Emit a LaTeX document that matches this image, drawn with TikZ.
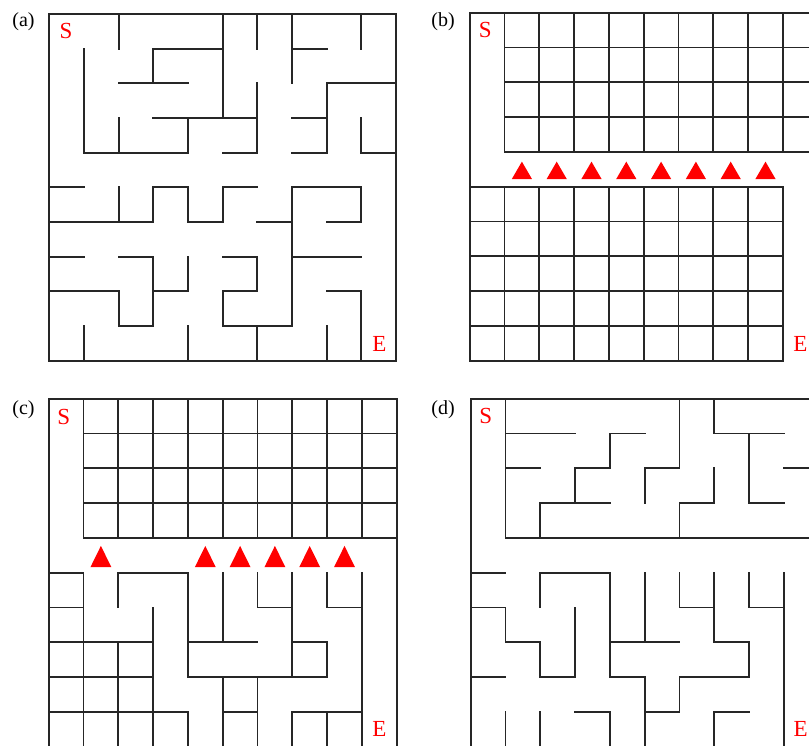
\documentclass[tikz,border=0pt]{standalone}
\usepackage{fontspec}
\setmainfont{Liberation Serif}
\begin{document}
\begin{tikzpicture}[x=1pt,y=1pt]
\tikzset{
  wall/.style={line width=1.9pt, draw=black!85, line cap=rect, line join=miter},
  tri/.style={fill=red},
  sechar/.style={text=red, font=\fontsize{23}{23}\selectfont, inner sep=0pt},
  plabel/.style={font=\fontsize{20}{20}\selectfont, inner sep=0pt},
  cellgrid/.style={x=34.75pt, y=-34.75pt}
}
\useasboundingbox (0,0) rectangle (809,-746);
\clip (0,0) rectangle (809,-746);
\fill[white] (0,0) rectangle (809,-746);

% panel labels
\node[plabel] (la) at (23.5,-21.5) {(a)};
\node[plabel] (lb) at (443,-21.5) {(b)};
\node[plabel] (lc) at (23.5,-409.5) {(c)};
\node[plabel] (ld) at (443,-409.5) {(d)};

% ---------------- panel (a)
\begin{scope}[shift={(49.3,-14)}, x=34.68pt, y=-34.68pt]
\draw[wall] (0,0) rectangle (10,10);
\draw[wall] (2,0)--(2,1);
\draw[wall] (5,0)--(5,3);
\draw[wall] (3,3)--(6,3);
\draw[wall] (4,3)--(4,4);
\draw[wall] (6,0)--(6,1);
\draw[wall] (7,0)--(7,2);
\draw[wall] (7,1)--(8,1);
\draw[wall] (9,0)--(9,1);
\draw[wall] (1,1)--(1,4)--(4,4);
\draw[wall] (3,2)--(3,1)--(5,1);
\draw[wall] (2,2)--(4,2);
\draw[wall] (2,3)--(2,4);
\draw[wall] (6,2)--(6,4)--(5,4);
\draw[wall] (10,2)--(8,2)--(8,4)--(7,4);
\draw[wall] (7,3)--(8,3);
\draw[wall] (9,3)--(9,4)--(10,4);
\draw[wall] (0,5)--(1,5);
\draw[wall] (2,5)--(2,6);
\draw[wall] (0,6)--(3,6)--(3,5)--(4,5)--(4,6)--(5,6)--(5,5)--(6,5);
\draw[wall] (6,6)--(7,6);
\draw[wall] (7,9)--(7,5)--(9,5)--(9,6)--(8,6);
\draw[wall] (0,7)--(1,7);
\draw[wall] (2,7)--(3,7)--(3,9)--(2,9)--(2,8)--(0,8);
\draw[wall] (4,7)--(4,8)--(3,8);
\draw[wall] (5,7)--(6,7)--(6,8)--(5,8)--(5,9)--(7,9);
\draw[wall] (7,7)--(9,7);
\draw[wall] (8,8)--(9,8)--(9,10);
\draw[wall] (1,9)--(1,10);
\draw[wall] (4,9)--(4,10);
\draw[wall] (6,9)--(6,10);
\draw[wall] (8,9)--(8,10);
\node[sechar] (sa) at (0.48,0.5) {S};
\node[sechar] (ea) at (9.52,9.52) {E};
\end{scope}

% ---------------- panel (b)
\begin{scope}[shift={(469.7,-12.7)}, x=34.8pt, y=-34.8pt]
\draw[wall] (0,0)--(10,0);
\draw[wall] (0,0)--(0,10)--(9,10)--(9,5)--(0,5);
\foreach \j in {1,...,4} \draw[wall] (1,\j)--(10,\j);
\foreach \i in {1,...,10} \draw[wall] (\i,0)--(\i,4);
\foreach \j in {6,...,9} \draw[wall] (0,\j)--(9,\j);
\foreach \i in {1,...,8} \draw[wall] (\i,5)--(\i,10);
\foreach \i in {1,...,8} \fill[tri] (\i+0.21,4.78)--(\i+0.79,4.78)--(\i+0.5,4.28)--cycle;
\node[sechar] (sb) at (0.45,0.5) {S};
\node[sechar] (eb) at (9.5,9.52) {E};
\end{scope}

% ---------------- panel (c)
\begin{scope}[shift={(48.7,-398.7)}, x=34.8pt, y=-34.8pt]
\draw[wall] (10,10)--(10,0)--(0,0)--(0,10);
\foreach \j in {1,...,4} \draw[wall] (1,\j)--(10,\j);
\foreach \i in {1,...,9} \draw[wall] (\i,0)--(\i,4);
\foreach \i in {1,4,5,6,7,8} \fill[tri] (\i+0.2,4.84)--(\i+0.8,4.84)--(\i+0.5,4.23)--cycle;
\draw[wall] (0,5)--(1,5);
\draw[wall] (1,5)--(1,10);
\draw[wall] (0,6)--(1,6);
\draw[wall] (0,7)--(3,7);
\draw[wall] (0,8)--(3,8);
\draw[wall] (0,9)--(4,9)--(4,10);
\draw[wall] (2,7)--(2,10);
\draw[wall] (3,6)--(3,10);
\draw[wall] (2,6)--(2,5)--(4,5)--(4,8)--(8,8)--(8,7)--(7,7);
\draw[wall] (5,5)--(5,7);
\draw[wall] (4,7)--(6,7);
\draw[wall] (6,5)--(6,6)--(7,6);
\draw[wall] (7,5)--(7,8);
\draw[wall] (8,5)--(8,6)--(9,6);
\draw[wall] (9,5)--(9,10);
\draw[wall] (7,10)--(7,9)--(9,9);
\draw[wall] (8,9)--(8,10);
\draw[wall] (5,10)--(5,8);
\draw[wall] (6,8)--(6,10);
\draw[wall] (5,9)--(6,9);
\node[sechar] (sc) at (0.43,0.52) {S};
\node[sechar] (ec) at (9.5,9.5) {E};
\end{scope}

% ---------------- panel (d)
\begin{scope}[shift={(470.7,-398.7)}, x=34.8pt, y=-34.8pt]
\draw[wall] (10,0)--(0,0)--(0,10);
\draw[wall] (1,0)--(1,4)--(10,4);
\draw[wall] (1,1)--(3,1);
\draw[wall] (5,1)--(4,1)--(4,2)--(3,2)--(3,3);
\draw[wall] (2,4)--(2,3)--(4,3);
\draw[wall] (1,2)--(2,2);
\draw[wall] (6,0)--(6,2)--(5,2)--(5,3);
\draw[wall] (7,0)--(7,1)--(9,1);
\draw[wall] (8,1)--(8,3)--(9,3);
\draw[wall] (9,2)--(10,2);
\draw[wall] (7,2)--(7,3)--(6,3)--(6,4);
\draw[wall] (0,5)--(1,5);
\draw[wall] (0,6)--(1,6)--(1,7)--(2,7)--(2,8)--(3,8)--(3,6);
\draw[wall] (2,6)--(2,5)--(4,5)--(4,8)--(5,8)--(5,10);
\draw[wall] (5,9)--(6,9)--(6,8)--(8,8)--(8,7)--(7,7)--(7,5);
\draw[wall] (6,5)--(6,6)--(7,6);
\draw[wall] (5,5)--(5,7);
\draw[wall] (4,7)--(6,7);
\draw[wall] (8,5)--(8,6)--(9,6);
\draw[wall] (9,5)--(9,10);
\draw[wall] (0,8)--(1,8);
\draw[wall] (1,9)--(1,10);
\draw[wall] (2,9)--(2,10);
\draw[wall] (3,9)--(4,9)--(4,10);
\draw[wall] (8,9)--(7,9)--(7,10);
\node[sechar] (sd) at (0.43,0.5) {S};
\node[sechar] (ed) at (9.48,9.5) {E};
\end{scope}
\end{tikzpicture}
\end{document}
